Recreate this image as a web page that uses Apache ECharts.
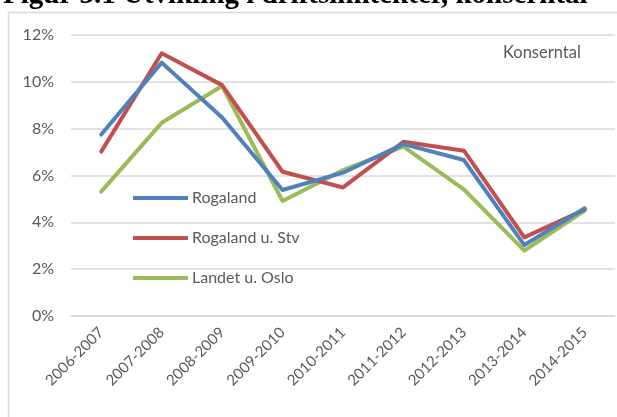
<!DOCTYPE html>
<html>
<head>
<meta charset="utf-8">
<script src="https://cdn.jsdelivr.net/npm/echarts@6/dist/echarts.min.js"></script>
<style>html,body{margin:0;padding:0;background:#fff}#c{width:617px;height:417px}</style>
</head>
<body>
<div id="c"></div>
<script>
const categories = ['2006-2007','2007-2008','2008-2009','2009-2010','2010-2011','2011-2012','2012-2013','2013-2014','2014-2015'];
const rogaland    = [7.75, 10.82, 8.48, 5.38, 6.12, 7.34, 6.66, 3.03, 4.60];
const rogalandStv = [7.02, 11.22, 9.86, 6.16, 5.49, 7.44, 7.06, 3.36, 4.55];
const landetOslo  = [5.31, 8.25, 9.82, 4.91, 6.23, 7.23, 5.41, 2.79, 4.50];
const seriesNames = ['Rogaland', 'Rogaland u. Stv', 'Landet u. Oslo'];
const titleText = 'Figur 3.1 Utvikling i driftsinntekter, konserntal';
const noteText = 'Konserntal';

const colors = ['#4F81BD', '#C0504D', '#9BBB59'];
const font = 'Lato, "Open Sans", sans-serif';
const chart = echarts.init(document.getElementById('c'), null, {renderer: 'canvas'});
const mk = (name, data, i) => ({
  name, type: 'line', data, showSymbol: false, symbol: 'none',
  lineStyle: {width: 4, color: colors[i], cap: 'round', join: 'round'},
  itemStyle: {color: colors[i]}, z: 10 - i
});
chart.setOption({
  animation: false,
  backgroundColor: '#fff',
  grid: {left: 71, right: 2, top: 35, bottom: 101, containLabel: false},
  graphic: [
    {type: 'rect', shape: {x: 8.5, y: 12.5, width: 800, height: 600}, style: {fill: 'none', stroke: '#d9d9d9', lineWidth: 1.5}, silent: true},
    {type: 'text', x: 3, y: 10.5, style: {text: titleText, font: 'bold 29px "Liberation Serif", "DejaVu Serif", serif', fill: '#000', verticalAlign: 'bottom'}},
    {type: 'text', x: 503, y: 53, style: {text: noteText, font: '16.5px ' + font, fill: '#595959', verticalAlign: 'middle'}}
  ],
  legend: {
    orient: 'vertical', left: 133, top: 190, padding: 0,
    icon: 'rect', itemWidth: 55, itemHeight: 4, itemGap: 24,
    textStyle: {fontFamily: font, fontSize: 16, color: '#595959', lineHeight: 16, padding: [0,0,0,-1]},
    data: seriesNames
  },
  xAxis: {
    type: 'category', data: categories, boundaryGap: true,
    axisLine: {show: true, lineStyle: {color: '#d9d9d9', width: 1.5}},
    axisTick: {show: false},
    axisLabel: {rotate: 45, interval: 0, margin: 14, fontFamily: font, fontSize: 15, color: '#595959'}
  },
  yAxis: {
    type: 'value', min: 0, max: 12, interval: 2,
    axisLine: {show: false}, axisTick: {show: false},
    axisLabel: {formatter: v => v + '%', margin: 17, fontFamily: font, fontSize: 16, color: '#595959'},
    splitLine: {lineStyle: {color: '#d9d9d9', width: 1.5}}
  },
  series: [mk(seriesNames[0], rogaland, 0), mk(seriesNames[1], rogalandStv, 1), mk(seriesNames[2], landetOslo, 2)]
});
</script>
</body>
</html>
